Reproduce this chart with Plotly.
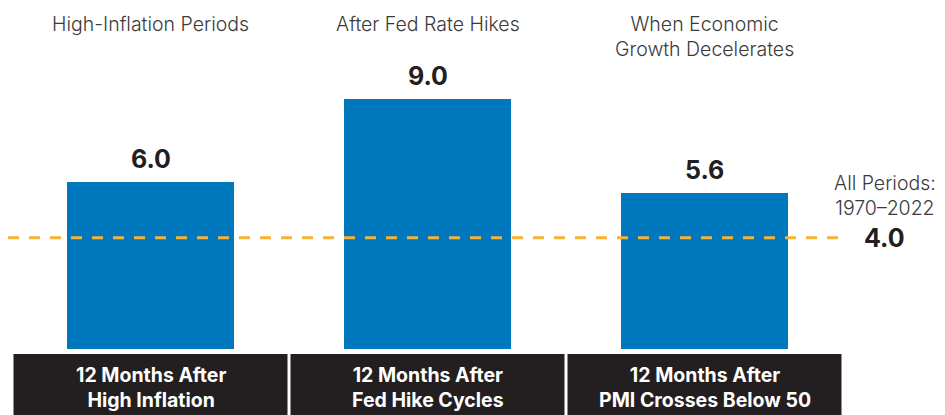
import plotly.graph_objects as go

# ---- data ----
headers = ["High-Inflation Periods", "After Fed Rate Hikes", "When Economic<br>Growth Decelerates"]
categories = ["12 Months After<br>High Inflation", "12 Months After<br>Fed Hike Cycles",
              "12 Months After<br>PMI Crosses Below 50"]
values = [6.0, 9.0, 5.6]
all_periods_value = 4.0
all_periods_label = "All Periods:<br>1970\u20132022"

# ---- style ----
OFF = 8                      # page body margin
W, H = 945 - OFF, 415 - OFF  # figure size
BAR = "#0078BD"
DARK = "#231F20"
ORANGE = "#F6B335"
GREY = "#3a3a3a"
FONT = "Inter"

# reference pixel geometry (screen px) -> figure px
px_per_unit = 27.83
zero_px = 349 - OFF
cat_px0, cat_step = 150.5 - OFF, 277.0


def py(ref_px):
    """screen pixel row -> paper y"""
    return (H - (ref_px - OFF)) / H


def px(ref_px):
    """screen pixel column -> paper x"""
    return (ref_px - OFF) / W


xs = list(range(len(categories)))
y_top = zero_px / px_per_unit
y_bot = -(H - zero_px) / px_per_unit
x_lo = -cat_px0 / cat_step
x_hi = (W - cat_px0) / cat_step

fig = go.Figure()
fig.add_trace(go.Bar(x=xs, y=values, width=167 / cat_step, marker=dict(color=BAR, line=dict(width=0)),
                     hoverinfo="skip"))

shapes = []
annotations = []

# dashed average line
shapes.append(dict(type="line", xref="paper", yref="y", x0=0, x1=px(840),
                   y0=all_periods_value, y1=all_periods_value,
                   line=dict(color=ORANGE, width=3, dash="11px,10px"), layer="above"))

half = (cat_step - 3) / 2 / cat_step
for i, (cat, hdr, v) in enumerate(zip(categories, headers, values)):
    shapes.append(dict(type="rect", xref="x", yref="paper", x0=i - half, x1=i + half,
                       y0=0, y1=py(354), fillcolor=DARK, line=dict(width=0), layer="above"))
    annotations.append(dict(x=i, y=py(387), xref="x", yref="paper", text=cat, showarrow=False,
                            xanchor="center", yanchor="middle",
                            font=dict(family=FONT, size=19.5, color="white", weight="bold")))
    annotations.append(dict(x=i, y=py(10.5), xref="x", yref="paper", text=hdr, showarrow=False,
                            xanchor="center", yanchor="top",
                            font=dict(family=FONT, size=19.5, color=GREY, weight=300)))
    annotations.append(dict(x=i, y=v, xref="x", yref="y", text=f"{v:.1f}", showarrow=False,
                            xanchor="center", yanchor="middle", yshift=23,
                            font=dict(family=FONT, size=25, color=DARK, weight="bold")))

annotations.append(dict(x=px(885), y=py(195), xref="paper", yref="paper", text=all_periods_label,
                        showarrow=False, xanchor="center", yanchor="middle",
                        font=dict(family=FONT, size=19.5, color=GREY, weight=300)))
annotations.append(dict(x=px(884), y=all_periods_value, xref="paper", yref="y",
                        text=f"{all_periods_value:.1f}", showarrow=False, xanchor="center", yanchor="middle",
                        font=dict(family=FONT, size=25, color=DARK, weight="bold")))

fig.update_layout(
    width=W, height=H, margin=dict(l=0, r=0, t=0, b=0),
    paper_bgcolor="white", plot_bgcolor="white", showlegend=False,
    xaxis=dict(range=[x_lo, x_hi], visible=False, fixedrange=True),
    yaxis=dict(range=[y_bot, y_top], visible=False, fixedrange=True),
    shapes=shapes, annotations=annotations, bargap=0,
)

fig.write_html("out.html")
